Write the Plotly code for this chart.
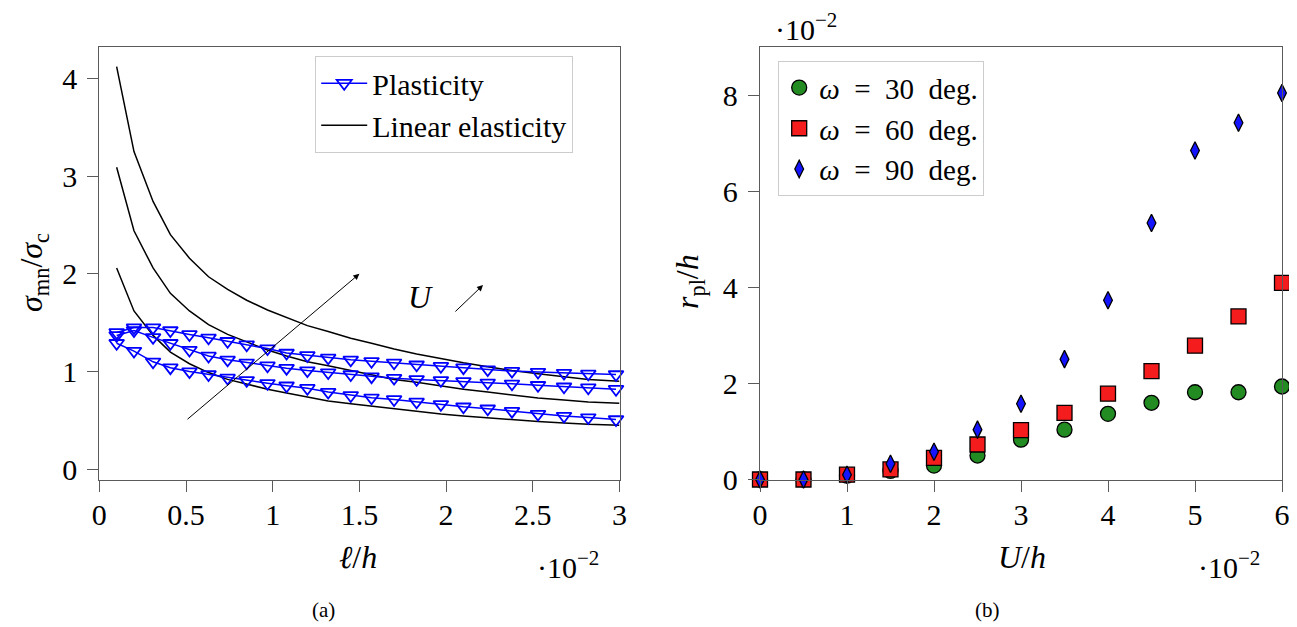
import plotly.graph_objects as go

# ---------------- data: panel (a) ----------------
ell = [0.10, 0.20, 0.31, 0.41, 0.52, 0.63, 0.74, 0.85, 0.97, 1.08, 1.20, 1.32,
       1.45, 1.57, 1.70, 1.83, 1.97, 2.10, 2.24, 2.38, 2.53, 2.68, 2.82, 2.98]
ell_el = [0.10, 0.20, 0.31, 0.41, 0.52, 0.63, 0.74, 0.85, 0.97, 1.08, 1.20, 1.32,
          1.45, 1.57, 1.70, 1.83, 1.97, 2.10, 2.24, 2.38, 2.53, 2.68, 2.82, 3.00]

plast_high = [1.40, 1.45, 1.45, 1.42, 1.38, 1.345, 1.31, 1.275, 1.235, 1.19, 1.165, 1.14,
              1.12, 1.105, 1.09, 1.07, 1.055, 1.04, 1.02, 1.005, 0.995, 0.985, 0.977, 0.97]
plast_mid = [1.37, 1.42, 1.35, 1.29, 1.22, 1.16, 1.12, 1.09, 1.06, 1.035, 1.01, 0.99,
             0.97, 0.948, 0.933, 0.92, 0.91, 0.90, 0.885, 0.875, 0.86, 0.845, 0.835, 0.82]
plast_low = [1.29, 1.21, 1.10, 1.04, 1.00, 0.97, 0.935, 0.91, 0.88, 0.855, 0.83, 0.79,
             0.756, 0.732, 0.715, 0.69, 0.665, 0.64, 0.62, 0.595, 0.565, 0.545, 0.53, 0.51]

elast_high = [4.12, 3.25, 2.74, 2.40, 2.16, 1.97, 1.84, 1.73, 1.63, 1.55, 1.47, 1.41,
              1.34, 1.29, 1.23, 1.18, 1.13, 1.09, 1.05, 1.01, 0.977, 0.946, 0.919, 0.90]
elast_mid = [3.09, 2.44, 2.06, 1.80, 1.62, 1.48, 1.38, 1.30, 1.22, 1.16, 1.10, 1.06,
             1.01, 0.97, 0.92, 0.89, 0.85, 0.82, 0.79, 0.76, 0.73, 0.71, 0.69, 0.675]
elast_low = [2.06, 1.62, 1.37, 1.20, 1.08, 0.99, 0.92, 0.87, 0.82, 0.78, 0.74, 0.70,
             0.67, 0.645, 0.615, 0.59, 0.565, 0.545, 0.525, 0.505, 0.49, 0.475, 0.46, 0.45]

ticks_a_x = [0, 0.5, 1, 1.5, 2, 2.5, 3]
ticks_a_x_labels = ["0", "0.5", "1", "1.5", "2", "2.5", "3"]
ticks_a_y = [0, 1, 2, 3, 4]

# ---------------- data: panel (b) ----------------
Uh = [0, 0.5, 1, 1.5, 2, 2.5, 3, 3.5, 4, 4.5, 5, 5.5, 6]
r_w30 = [0, 0, 0.08, 0.18, 0.29, 0.50, 0.83, 1.04, 1.37, 1.60, 1.82, 1.82, 1.94]
r_w60 = [0, 0, 0.10, 0.21, 0.45, 0.73, 1.03, 1.39, 1.79, 2.26, 2.79, 3.40, 4.10]
r_w90 = [0, 0, 0.10, 0.33, 0.58, 1.04, 1.58, 2.51, 3.74, 5.35, 6.86, 7.44, 8.06]
ticks_b_x = [0, 1, 2, 3, 4, 5, 6]
ticks_b_y = [0, 2, 4, 6, 8]

# ---------------- styling ----------------
FONT = "Liberation Serif"
OFF = 8                      # default page margin of the html body
W, H = 1297 - OFF, 627 - OFF
FRAME = "#5a5a5a"
SP = "\u2002"

def px(xp):
    return (xp - OFF) / W

def py(yp):
    return 1 - (yp - OFF) / H

fig = go.Figure()

for i, ys in enumerate([elast_low, elast_mid, elast_high]):
    fig.add_trace(go.Scatter(
        x=ell_el, y=ys, mode="lines", line=dict(color="black", width=1.5),
        name="Linear elasticity", legendgroup="el", showlegend=(i == 0),
        legendrank=2, xaxis="x", yaxis="y", legend="legend", cliponaxis=False))

for i, ys in enumerate([plast_low, plast_mid, plast_high]):
    fig.add_trace(go.Scatter(
        x=ell, y=ys, mode="lines+markers",
        line=dict(color="#0000ff", width=1.5),
        marker=dict(symbol="triangle-down-open", size=13, color="#0000ff",
                    line=dict(width=1.8, color="#0000ff")),
        name="Plasticity", legendgroup="pl", showlegend=(i == 0),
        legendrank=1, xaxis="x", yaxis="y", legend="legend", cliponaxis=False))

fig.add_trace(go.Scatter(
    x=Uh, y=r_w30, mode="markers", name=f"<i>ω</i>{SP}={SP}30{SP}deg.",
    marker=dict(symbol="circle", size=15, color="#228B22", line=dict(width=1.3, color="black")),
    xaxis="x2", yaxis="y2", legend="legend2", cliponaxis=False))
fig.add_trace(go.Scatter(
    x=Uh, y=r_w60, mode="markers", name=f"<i>ω</i>{SP}={SP}60{SP}deg.",
    marker=dict(symbol="square", size=15, color="#f41c1c", line=dict(width=1.3, color="black")),
    xaxis="x2", yaxis="y2", legend="legend2", cliponaxis=False))
fig.add_trace(go.Scatter(
    x=Uh, y=r_w90, mode="markers", name=f"<i>ω</i>{SP}={SP}90{SP}deg.",
    marker=dict(symbol="diamond-tall", size=12.5, color="#1414ff", line=dict(width=1.3, color="black")),
    xaxis="x2", yaxis="y2", legend="legend2", cliponaxis=False))

axis_common = dict(
    showline=True, mirror=True, linecolor=FRAME, linewidth=1.3,
    ticks="outside", ticklen=11, tickwidth=1.2, tickcolor=FRAME,
    showgrid=False, zeroline=False, automargin=False,
    tickfont=dict(family=FONT, size=30, color="black"),
)

fig.update_layout(
    width=W, height=H,
    margin=dict(l=0, r=0, t=0, b=0),
    paper_bgcolor="white", plot_bgcolor="white",
    font=dict(family=FONT, color="black"),
    xaxis=dict(domain=[px(99.3), px(619.5)], range=[0, 3], tickvals=ticks_a_x,
               ticktext=ticks_a_x_labels, anchor="y", ticklabelstandoff=-3, **axis_common),
    yaxis=dict(domain=[py(480), py(47)], range=[-0.109, 4.32], tickvals=ticks_a_y,
               anchor="x", ticklabelstandoff=4, **axis_common),
    xaxis2=dict(domain=[px(760), px(1282)], range=[0, 6], tickvals=ticks_b_x,
                anchor="y2", ticklabelstandoff=-3, **axis_common),
    yaxis2=dict(domain=[py(479.5), py(47)], range=[0, 9.02], tickvals=ticks_b_y,
                anchor="x2", ticklabelstandoff=4, **axis_common),
    legend=dict(x=px(315), y=py(56), xanchor="left", yanchor="top",
                bgcolor="white", bordercolor="#cccccc", borderwidth=1.2,
                font=dict(family=FONT, size=30, color="black"),
                tracegroupgap=0, itemwidth=46),
    legend2=dict(x=px(778), y=py(61), xanchor="left", yanchor="top",
                 bgcolor="white", bordercolor="#cccccc", borderwidth=1.2,
                 font=dict(family=FONT, size=29, color="black"),
                 tracegroupgap=0, itemwidth=30),
    showlegend=True,
)

def note(xp, yp, text, size, angle=0):
    fig.add_annotation(x=px(xp), y=py(yp), xref="paper", yref="paper", text=text,
                       showarrow=False, xanchor="center", yanchor="middle",
                       textangle=angle, font=dict(family=FONT, size=size, color="black"))

# arrows in panel (a)
fig.add_annotation(x=1.5, y=2.0, ax=0.5, ay=0.5, xref="x", yref="y", axref="x", ayref="y",
                   showarrow=True, arrowhead=2, arrowsize=1.2, arrowwidth=1, arrowcolor="black",
                   standoff=0, text="")
fig.add_annotation(x=2.213, y=1.885, ax=2.045, ay=1.60, xref="x", yref="y", axref="x", ayref="y",
                   showarrow=True, arrowhead=2, arrowsize=1.2, arrowwidth=1, arrowcolor="black",
                   standoff=0, text="")
fig.add_annotation(x=1.85, y=1.76, xref="x", yref="y", text="<i>U</i>", showarrow=False,
                   xanchor="center", yanchor="middle",
                   font=dict(family=FONT, size=32, color="black"))

# axis titles
note(358, 557, "<i>ℓ</i>/<i>h</i>", 32)
note(1022, 557, "<i>U</i>/<i>h</i>", 32)
note(33, 272, "<i>σ</i><sub>mn</sub>/<i>σ</i><sub>c</sub>", 32, -90)
note(690, 282, "<i>r</i><sub>pl</sub>/<i>h</i>", 32, -90)

# scale labels
note(568, 565, "·10<sup>−2</sup>", 30)
note(1229, 565, "·10<sup>−2</sup>", 30)
note(806, 27, "·10<sup>−2</sup>", 30)

# subfigure labels
note(323, 610, "(a)", 21)
note(987, 610, "(b)", 21)

fig.write_html("out.html")
